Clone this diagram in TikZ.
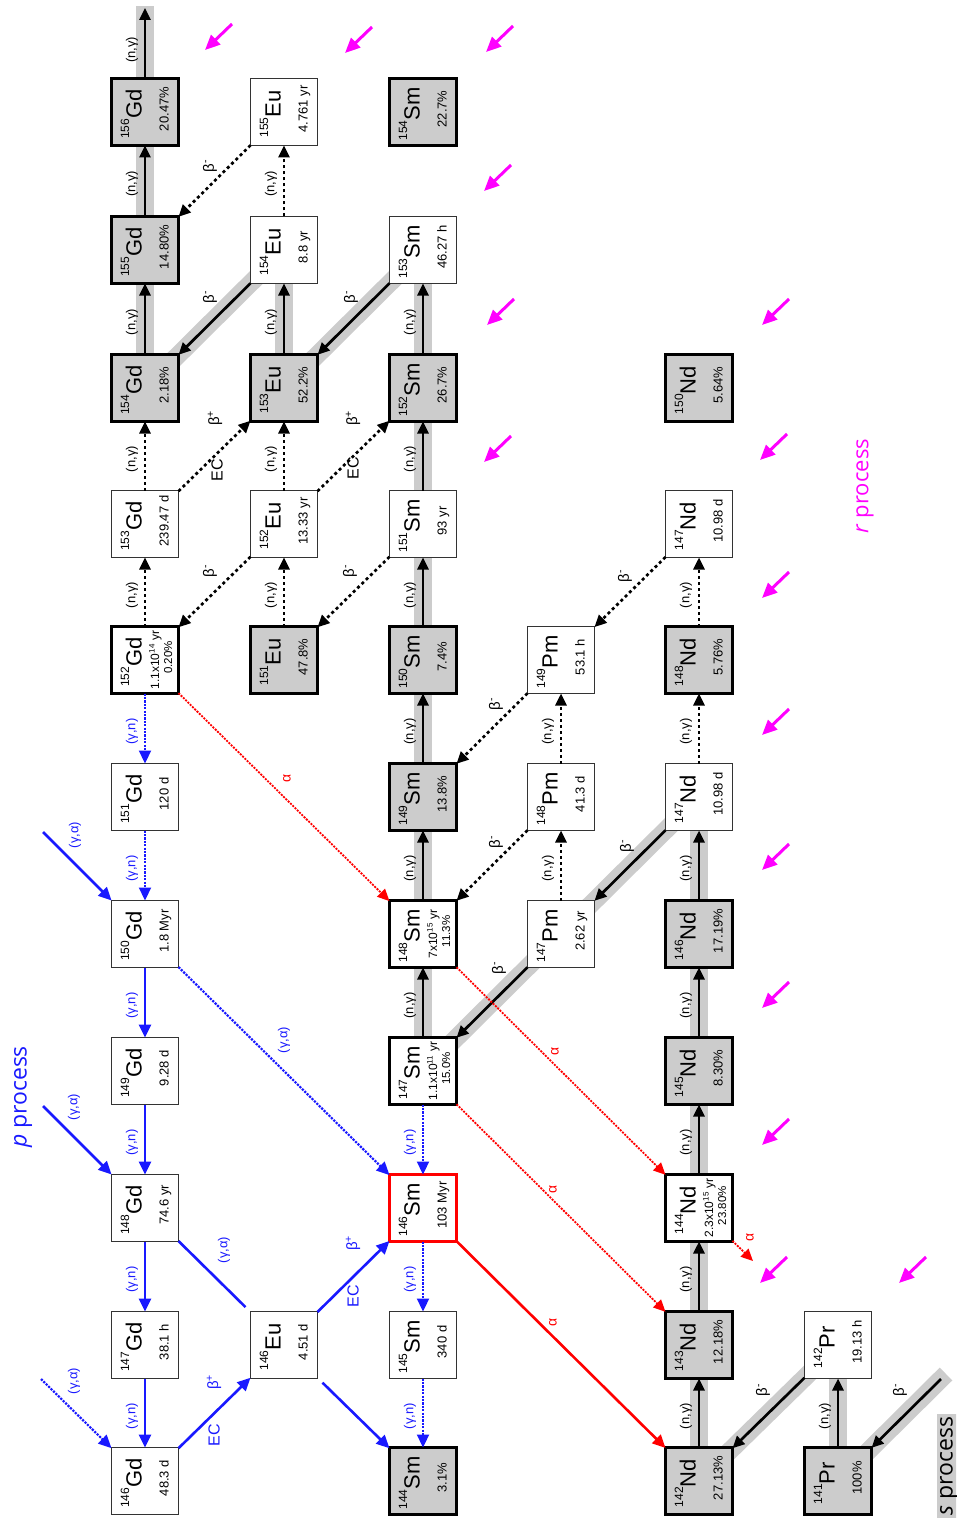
\documentclass[tikz,border=0pt]{standalone}
\usepackage{fontspec}
\usepackage{graphicx}
\setmainfont{Liberation Sans}
\newfontfamily\procfont{Open Sans}
\usetikzlibrary{arrows.meta,backgrounds}
\definecolor{pblue}{RGB}{25,25,255}
\definecolor{rmag}{RGB}{255,0,255}
\definecolor{bandgray}{RGB}{204,204,204}

\newcommand\isotxt[2]{{\fontsize{12}{12}\selectfont\raisebox{12.5pt}{#1}}{\fontsize{22}{22}\selectfont #2}}
\newcommand\nucA[3]{\rotatebox{90}{\vbox to 67pt{\lineskiplimit=-100pt\lineskip=0pt\prevdepth=0pt
\baselineskip=30pt\hbox to 67pt{\hss\isotxt{#1}{#2}\kern4pt\hss}
\baselineskip=27pt\hbox to 67pt{\hss\kern6pt\fontsize{13}{13}\selectfont #3\hss}\vss}}}
\newcommand\nucB[4]{\rotatebox{90}{\vbox to 67pt{\lineskiplimit=-100pt\lineskip=0pt\prevdepth=0pt
\baselineskip=30pt\hbox to 67pt{\hss\isotxt{#1}{#2}\kern4pt\hss}
\baselineskip=17.5pt\hbox to 67pt{\hss\fontsize{12}{12}\selectfont #3\hss}
\baselineskip=13pt\hbox to 67pt{\hss\kern5pt\fontsize{11.5}{11}\selectfont #4\hss}\vss}}}

\begin{document}
\begin{tikzpicture}[x=1pt,y=-1pt,
 nbox/.style={draw, minimum size=67pt, inner sep=0pt, outer sep=0pt},
 stab/.style={nbox, fill=bandgray, line width=3pt},
 longl/.style={nbox, fill=white, line width=3pt},
 unst/.style={nbox, fill=white, draw=black!80, line width=1.1pt},
 redbox/.style={nbox, fill=white, draw=red, line width=3pt},
 band/.style={line width=18pt, draw=bandgray},
 sarr/.style={draw=black, line width=2.7pt, -{Triangle[length=12pt,width=11pt]}},
 darr/.style={sarr, dash pattern=on 3pt off 3pt},
 bline/.style={draw=pblue, line width=2.6pt},
 barr/.style={bline, -{Triangle[length=13pt,width=12pt]}},
 bdarr/.style={barr, line width=2.2pt, dash pattern=on 2.2pt off 1.2pt},
 rdarr/.style={draw=red, line width=1.8pt, dash pattern=on 2pt off 1.2pt, -{Triangle[length=12pt,width=11pt]}},
 rsarr/.style={draw=red, line width=2.6pt, -{Triangle[length=13pt,width=12pt]}},
 marr/.style={draw=rmag, line width=3pt, -{Triangle[length=15pt,width=13pt]}},
 lbl/.style={rotate=90, inner sep=0pt, font=\fontsize{13}{13}\selectfont},
 btlbl/.style={lbl, font=\fontsize{15}{15}\selectfont},
 eclbl/.style={lbl, font=\fontsize{16}{16}\selectfont},
 allbl/.style={lbl, red, font=\fontsize{14}{14}\selectfont},
 ngl/.style={midway, xshift=-13pt, yshift=-3pt, lbl},
 proc/.style={rotate=90, inner sep=0pt, font=\procfont\fontsize{23}{23}\selectfont},
]
\useasboundingbox (0,0) rectangle (956,1522);
\clip (0,0) rectangle (956,1522);

% ---------- nuclide boxes ----------
\node[stab] (gd156) at (145,112) {\nucA{156}{Gd}{20.47\%}};
\node[stab] (gd155) at (145,250) {\nucA{155}{Gd}{14.80\%}};
\node[stab] (gd154) at (145,388) {\nucA{154}{Gd}{2.18\%}};
\node[unst] (gd153) at (145,524) {\nucA{153}{Gd}{239.47 d}};
\node[longl] (gd152) at (145,660) {\nucB{152}{Gd}{1.1x10\textsuperscript{14} yr}{0.20\%}};
\node[unst] (gd151) at (145,797) {\nucA{151}{Gd}{120 d}};
\node[unst] (gd150) at (145,934) {\nucA{150}{Gd}{1.8 Myr}};
\node[unst] (gd149) at (145,1071) {\nucA{149}{Gd}{9.28 d}};
\node[unst] (gd148) at (145,1208) {\nucA{148}{Gd}{74.6 yr}};
\node[unst] (gd147) at (145,1345) {\nucA{147}{Gd}{38.1 h}};
\node[unst] (gd146) at (145,1481) {\nucA{146}{Gd}{48.3 d}};

\node[unst] (eu155) at (284,112) {\nucA{155}{Eu}{4.761 yr}};
\node[unst] (eu154) at (284,250) {\nucA{154}{Eu}{8.8 yr}};
\node[stab] (eu153) at (284,388) {\nucA{153}{Eu}{52.2\%}};
\node[unst] (eu152) at (284,524) {\nucA{152}{Eu}{13.33 yr}};
\node[stab] (eu151) at (284,660) {\nucA{151}{Eu}{47.8\%}};
\node[unst] (eu146) at (284,1345) {\nucA{146}{Eu}{4.51 d}};

\node[stab] (sm154) at (423,112) {\nucA{154}{Sm}{22.7\%}};
\node[unst] (sm153) at (423,250) {\nucA{153}{Sm}{46.27 h}};
\node[stab] (sm152) at (423,388) {\nucA{152}{Sm}{26.7\%}};
\node[unst] (sm151) at (423,524) {\nucA{151}{Sm}{93 yr}};
\node[stab] (sm150) at (423,660) {\nucA{150}{Sm}{7.4\%}};
\node[stab] (sm149) at (423,797) {\nucA{149}{Sm}{13.8\%}};
\node[longl] (sm148) at (423,934) {\nucB{148}{Sm}{7x10\textsuperscript{15} yr}{11.3\%}};
\node[longl] (sm147) at (423,1071) {\nucB{147}{Sm}{1.1x10\textsuperscript{11} yr}{15.0\%}};
\node[redbox] (sm146) at (423,1208) {\nucA{146}{Sm}{103 Myr}};
\node[unst] (sm145) at (423,1345) {\nucA{145}{Sm}{340 d}};
\node[stab] (sm144) at (423,1481) {\nucA{144}{Sm}{3.1\%}};

\node[unst] (pm149) at (561,660) {\nucA{149}{Pm}{53.1 h}};
\node[unst] (pm148) at (561,797) {\nucA{148}{Pm}{41.3 d}};
\node[unst] (pm147) at (561,934) {\nucA{147}{Pm}{2.62 yr}};

\node[stab] (nd150) at (699,388) {\nucA{150}{Nd}{5.64\%}};
\node[unst] (nd147u) at (699,524) {\nucA{147}{Nd}{10.98 d}};
\node[stab] (nd148) at (699,660) {\nucA{148}{Nd}{5.76\%}};
\node[unst] (nd147) at (699,797) {\nucA{147}{Nd}{10.98 d}};
\node[stab] (nd146) at (699,934) {\nucA{146}{Nd}{17.19\%}};
\node[stab] (nd145) at (699,1071) {\nucA{145}{Nd}{8.30\%}};
\node[longl] (nd144) at (699,1208) {\nucB{144}{Nd}{2.3x10\textsuperscript{15} yr}{23.80\%}};
\node[stab] (nd143) at (699,1345) {\nucA{143}{Nd}{12.18\%}};
\node[stab] (nd142) at (699,1481) {\nucA{142}{Nd}{27.13\%}};

\node[unst] (pr142) at (838,1345) {\nucA{142}{Pr}{19.13 h}};
\node[stab] (pr141) at (838,1481) {\nucA{141}{Pr}{100\%}};

% ---------- free ends ----------
\coordinate (gdtop) at (145,8);
\coordinate (bandtop) at (145,6);
\coordinate (prin) at (941,1379);
\coordinate (prband) at (946,1374);
\coordinate (ga150) at (43,832);
\coordinate (ga148) at (43,1106);
\coordinate (ga146) at (41,1379);
\coordinate (ndalpha) at (753,1261);

% ---------- grey s-process bands ----------
\begin{scope}[on background layer]
\draw[band] (gd156.center) -- (bandtop);
\draw[band] (gd154.center) -- (gd156.center);
\draw[band] (eu154.center) -- (gd154.center);
\draw[band] (eu153.center) -- (eu154.center);
\draw[band] (sm153.center) -- (eu153.center);
\draw[band] (sm147.center) -- (sm153.center);
\draw[band] (nd147.center) -- (sm147.center);
\draw[band] (nd142.center) -- (nd147.center);
\draw[band] (pr142.center) -- (nd142.center);
\draw[band] (pr141.center) -- (pr142.center);
\draw[band] (prband) -- (pr141.center);
\end{scope}

% ---------- neutron captures ----------
\draw[sarr] (gd156) -- (gdtop);
\node[lbl] (lng0) at (132,50) {(n,γ)};
\draw[sarr] (gd155) -- (gd156) node[ngl]{(n,γ)};
\draw[sarr] (gd154) -- (gd155) node[ngl]{(n,γ)};
\draw[darr] (gd153) -- (gd154) node[ngl]{(n,γ)};
\draw[darr] (gd152) -- (gd153) node[ngl]{(n,γ)};
\draw[darr] (eu154) -- (eu155) node[ngl]{(n,γ)};
\draw[sarr] (eu153) -- (eu154) node[ngl]{(n,γ)};
\draw[darr] (eu152) -- (eu153) node[ngl]{(n,γ)};
\draw[darr] (eu151) -- (eu152) node[ngl]{(n,γ)};
\draw[sarr] (sm152) -- (sm153) node[ngl]{(n,γ)};
\draw[sarr] (sm151) -- (sm152) node[ngl]{(n,γ)};
\draw[sarr] (sm150) -- (sm151) node[ngl]{(n,γ)};
\draw[sarr] (sm149) -- (sm150) node[ngl]{(n,γ)};
\draw[sarr] (sm148) -- (sm149) node[ngl]{(n,γ)};
\draw[sarr] (sm147) -- (sm148) node[ngl]{(n,γ)};
\draw[darr] (pm148) -- (pm149) node[ngl]{(n,γ)};
\draw[darr] (pm147) -- (pm148) node[ngl]{(n,γ)};
\draw[darr] (nd148) -- (nd147u) node[ngl]{(n,γ)};
\draw[darr] (nd147) -- (nd148) node[ngl]{(n,γ)};
\draw[sarr] (nd146) -- (nd147) node[ngl]{(n,γ)};
\draw[sarr] (nd145) -- (nd146) node[ngl]{(n,γ)};
\draw[sarr] (nd144) -- (nd145) node[ngl]{(n,γ)};
\draw[sarr] (nd143) -- (nd144) node[ngl]{(n,γ)};
\draw[sarr] (nd142) -- (nd143) node[ngl]{(n,γ)};
\draw[sarr] (pr141) -- (pr142) node[ngl]{(n,γ)};

% ---------- beta decays ----------
\draw[darr] (eu155) -- (gd155);
\draw[sarr] (eu154) -- (gd154);
\draw[sarr] (sm153) -- (eu153);
\draw[darr] (eu152) -- (gd152);
\draw[darr] (sm151) -- (eu151);
\draw[darr] (pm149) -- (sm149);
\draw[darr] (pm148) -- (sm148);
\draw[darr] (nd147u) -- (pm149);
\draw[sarr] (nd147) -- (pm147);
\draw[sarr] (pm147) -- (sm147);
\draw[sarr] (pr142) -- (nd142);
\draw[sarr] (prin) -- (pr141);
\draw[darr] (gd153) -- (eu153);
\draw[darr] (eu152) -- (sm152);

\node[btlbl] (lb1) at (210,166) {β\textsuperscript{-}};
\node[btlbl] (lb2) at (210,297) {β\textsuperscript{-}};
\node[btlbl] (lb3) at (351,297) {β\textsuperscript{-}};
\node[btlbl] (lb4) at (210,571) {β\textsuperscript{-}};
\node[btlbl] (lb5) at (350,571) {β\textsuperscript{-}};
\node[btlbl] (lb6) at (496,704) {β\textsuperscript{-}};
\node[btlbl] (lb7) at (496,842) {β\textsuperscript{-}};
\node[btlbl] (lb8) at (625,576) {β\textsuperscript{-}};
\node[btlbl] (lb9) at (627,846) {β\textsuperscript{-}};
\node[btlbl] (lb10) at (499,968) {β\textsuperscript{-}};
\node[btlbl] (lb11) at (763,1390) {β\textsuperscript{-}};
\node[btlbl] (lb12) at (900,1390) {β\textsuperscript{-}};
\node[eclbl] (lec1) at (217,470) {EC};
\node[btlbl] (lbp1) at (215,418) {β\textsuperscript{+}};
\node[eclbl] (lec2) at (353,468) {EC};
\node[btlbl] (lbp2) at (353,418) {β\textsuperscript{+}};

% ---------- p process ----------
\draw[bdarr] (gd152) -- (gd151) node[ngl,pblue]{(γ,n)};
\draw[bdarr] (gd151) -- (gd150) node[ngl,pblue]{(γ,n)};
\draw[barr] (gd150) -- (gd149) node[ngl,pblue]{(γ,n)};
\draw[barr] (gd149) -- (gd148) node[ngl,pblue]{(γ,n)};
\draw[barr] (gd148) -- (gd147) node[ngl,pblue]{(γ,n)};
\draw[barr] (gd147) -- (gd146) node[ngl,pblue]{(γ,n)};
\draw[bdarr] (sm147) -- (sm146) node[ngl,pblue]{(γ,n)};
\draw[bdarr] (sm146) -- (sm145) node[ngl,pblue]{(γ,n)};
\draw[bdarr] (sm145) -- (sm144) node[ngl,pblue]{(γ,n)};
\draw[barr] (ga150) -- (gd150);
\draw[barr] (ga148) -- (gd148);
\draw[bdarr] (ga146) -- (gd146);
\draw[bdarr] (gd150) -- (sm146);
\draw[bline, shorten >=7pt] (gd148) -- (eu146);
\draw[barr, shorten <=7pt] (eu146) -- (sm144);
\draw[barr] (gd146) -- (eu146);
\draw[barr] (eu146) -- (sm146);
\node[lbl,pblue] (lga1) at (75,835) {(γ,α)};
\node[lbl,pblue] (lga2) at (74,1107) {(γ,α)};
\node[lbl,pblue] (lga3) at (74,1381) {(γ,α)};
\node[lbl,pblue] (lga4) at (284,1040) {(γ,α)};
\node[lbl,pblue] (lga5) at (224,1250) {(γ,α)};
\node[eclbl,pblue] (lec3) at (214,1435) {EC};
\node[btlbl,pblue] (lbp3) at (214,1382) {β\textsuperscript{+}};
\node[eclbl,pblue] (lec4) at (353,1296) {EC};
\node[btlbl,pblue] (lbp4) at (353,1243) {β\textsuperscript{+}};

% ---------- alpha decays ----------
\draw[rdarr] (gd152) -- (sm148);
\draw[rdarr] (sm148) -- (nd144);
\draw[rdarr] (sm147) -- (nd143);
\draw[rsarr] (sm146) -- (nd142);
\draw[rdarr] (nd144) -- (ndalpha);
\node[allbl] (la1) at (287,778) {α};
\node[allbl] (la2) at (555,1051) {α};
\node[allbl] (la3) at (553,1189) {α};
\node[allbl] (la4) at (553,1322) {α};
\node[allbl] (la5) at (750,1237) {α};

% ---------- r process arrows ----------
\foreach \hx/\hy in {205/50, 345/53, 486/52, 484/191, 487/325, 484/462,
  762/325, 760/460, 762/598, 762/735, 762/870, 762/1008, 762/1145, 760/1283, 899/1283}
  \draw[marr] (\hx+27,\hy-26) -- (\hx,\hy);

% ---------- process names ----------
\node[proc, pblue] (pproc) at (23,1097) {\textit{p} process};
\node[proc, rmag, font=\procfont\fontsize{22}{22}\selectfont] (rproc) at (865,486) {\textit{r} process};
\node[proc, fill=bandgray, inner sep=3pt] (sproc) at (949,1466) {\textit{s} process};
\end{tikzpicture}
\end{document}
